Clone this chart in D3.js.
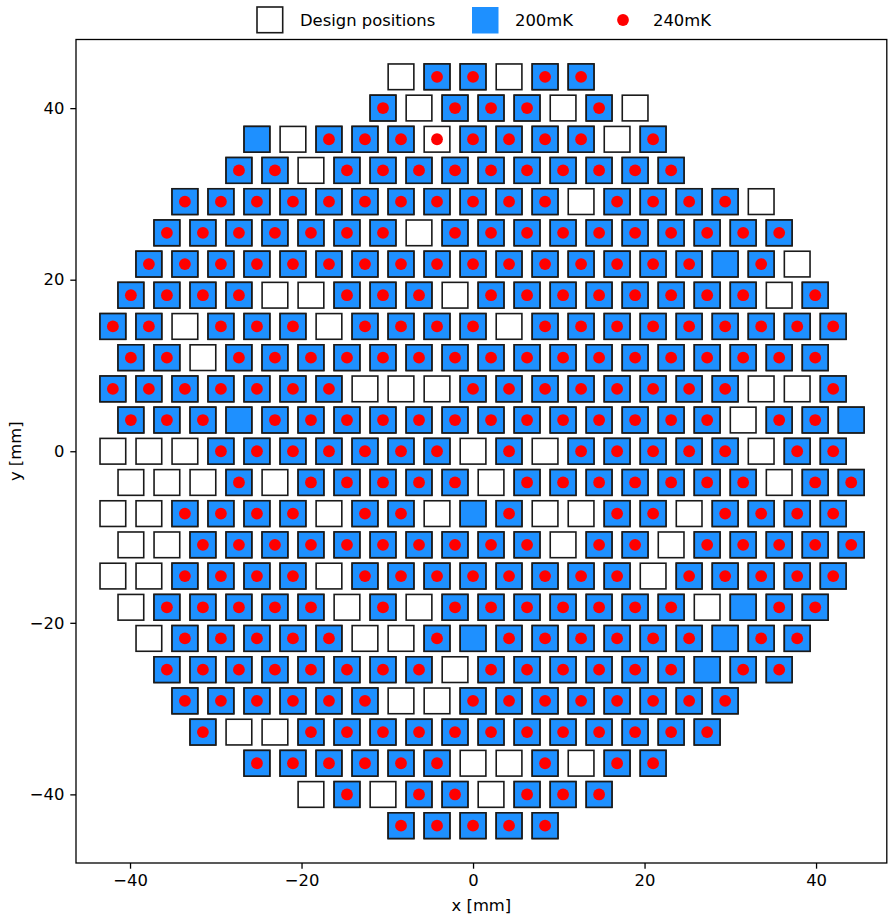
<!DOCTYPE html>
<html><head><meta charset="utf-8">
<script src="https://cdn.jsdelivr.net/npm/d3@7"></script>
<style>body{margin:0;background:#fff} svg text{font-family:"DejaVu Sans",sans-serif;fill:#000}</style>
</head><body><svg id="chart" width="888" height="916"></svg>
<script>
// ---- data (mm) ----
// One entry per row of the hexagonal module grid, top row first.
const rowY = [43.65, 40.01, 36.37, 32.74, 29.10, 25.46, 21.82, 18.19, 14.55, 10.91, 7.27, 3.64, 0,
              -3.64, -7.27, -10.91, -14.55, -18.19, -21.82, -25.46, -29.10, -32.74, -36.37, -40.01, -43.65];
const rowXStart = [-8.4, -10.5, -25.2, -27.3, -33.6, -35.7, -37.8, -39.9, -42.0, -39.9, -42.0, -39.9, -42.0,
                   -39.9, -42.0, -39.9, -42.0, -39.9, -37.8, -35.7, -33.6, -31.5, -25.2, -18.9, -8.4];
const columnPitch = 4.2;
// W = design position only, B = 200mK, R = 200mK + 240mK, D = design + 240mK
const rowStatus = [
  "WRRWRR",
  "RWRRRWRW",
  "BWRRRDRRRRWR",
  "RRWRRRRRRRRRR",
  "RRRRRRRRRRRWRRRRW",
  "RRRRRRRWRRRRRRRRRR",
  "RRRRRRRRRRRRRRRRBRW",
  "RRRRWWRRRWRRRRRRRRWR",
  "RRWRRRWRRRRWRRRRRRRRR",
  "RRWRRRRRRRRRRRRRRRRR",
  "RRRRRRRWWWRRRRRRRRWWR",
  "RRRBRRRRRRRRRRRRRWRRB",
  "WWWRRRRRRRWRWRRRRRWRR",
  "WWWRWRRRRRWRRRRRRRWRR",
  "WWRRRRWRRWBRWWRRWRRRR",
  "WWRRRRRRRRRRWRRWRRRRR",
  "WWRRRRWRRRRRRRRWRRRRR",
  "WRRRRRWRWRRRRRRRWBRR",
  "WRRRRRWWRBRRRRRRBRR",
  "RRRRRRRRWRRRRRRBRR",
  "RRRRRRWWRRRRRRRR",
  "RWWRRRRRRRRRRRR",
  "RRRRRRWWRWRR",
  "WRWRRWRRR",
  "RRRRR"
];
const xTicks = [-40, -20, 0, 20, 40];
const yTicks = [-40, -20, 0, 20, 40];
const legendLabels = ["Design positions", "200mK", "240mK"];
const xDomain = [-46.3, 48.25];
const yDomain = [-48, 48];

// ---- derived point sets ----
const design = [], cold200 = [], cold240 = [];
rowStatus.forEach((s, i) => {
  [...s].forEach((ch, j) => {
    const p = {x: rowXStart[i] + j * columnPitch, y: rowY[i]};
    design.push(p);
    if (ch === "B" || ch === "R") cold200.push(p);
    if (ch === "R" || ch === "D") cold240.push(p);
  });
});

// ---- layout ----
const L = 76, R = 886.8, T = 39.5, B = 863;
const FS = 16.4;
const svg = d3.select("#chart");
const x = d3.scaleLinear().domain(xDomain).range([L, R]);
const y = d3.scaleLinear().domain(yDomain).range([B, T]);

const blue = "#1e90ff", red = "#ff0000", edge = "#1a1a1a";
const side = 25.7, sw = 1.6, dotR = 5.9;

const plot = svg.append("g");
plot.selectAll("rect.design").data(design).join("rect")
  .attr("class", "design")
  .attr("x", d => x(d.x) - side / 2).attr("y", d => y(d.y) - side / 2)
  .attr("width", side).attr("height", side)
  .attr("fill", "#fff").attr("stroke", edge).attr("stroke-width", sw);
plot.selectAll("rect.c200").data(cold200).join("rect")
  .attr("class", "c200")
  .attr("x", d => x(d.x) - side / 2).attr("y", d => y(d.y) - side / 2)
  .attr("width", side).attr("height", side)
  .attr("fill", blue).attr("stroke", edge).attr("stroke-width", sw);
plot.selectAll("circle.c240").data(cold240).join("circle")
  .attr("class", "c240")
  .attr("cx", d => x(d.x)).attr("cy", d => y(d.y)).attr("r", dotR)
  .attr("fill", red);

// ---- axes ----
const fmt = d3.format("d");
const xa = svg.append("g").attr("transform", `translate(0,${B})`)
  .call(d3.axisBottom(x).tickValues(xTicks).tickSize(5.7).tickPadding(5.2).tickFormat(fmt));
const ya = svg.append("g").attr("transform", `translate(${L},0)`)
  .call(d3.axisLeft(y).tickValues(yTicks).tickSize(5.7).tickPadding(6).tickFormat(fmt));
[xa, ya].forEach(g => {
  g.select(".domain").remove();
  g.selectAll(".tick line").attr("stroke", "#000").attr("stroke-width", 1.3);
  g.selectAll(".tick text").attr("font-size", FS).attr("font-family", "DejaVu Sans").attr("fill", "#000");
});
svg.append("rect").attr("x", L).attr("y", T).attr("width", R - L).attr("height", B - T)
  .attr("fill", "none").attr("stroke", "#000").attr("stroke-width", 1.3);

svg.append("text").attr("x", (L + R) / 2).attr("y", 911).attr("text-anchor", "middle")
  .attr("font-size", FS).text("x [mm]");
svg.append("text").attr("transform", `translate(21,${(T + B) / 2}) rotate(-90)`)
  .attr("text-anchor", "middle").attr("font-size", FS).text("y [mm]");

// ---- legend ----
const lg = svg.append("g");
lg.append("rect").attr("x", 257).attr("y", 7).attr("width", 25.7).attr("height", 25.7)
  .attr("fill", "#fff").attr("stroke", edge).attr("stroke-width", sw);
lg.append("text").attr("x", 300).attr("y", 26).attr("font-size", FS).text(legendLabels[0]);
lg.append("rect").attr("x", 472).attr("y", 7).attr("width", 26.5).attr("height", 26.5)
  .attr("fill", blue);
lg.append("text").attr("x", 515).attr("y", 26).attr("font-size", FS).text(legendLabels[1]);
lg.append("circle").attr("cx", 623).attr("cy", 20).attr("r", dotR).attr("fill", red);
lg.append("text").attr("x", 653).attr("y", 26).attr("font-size", FS).text(legendLabels[2]);
</script>
</body></html>
